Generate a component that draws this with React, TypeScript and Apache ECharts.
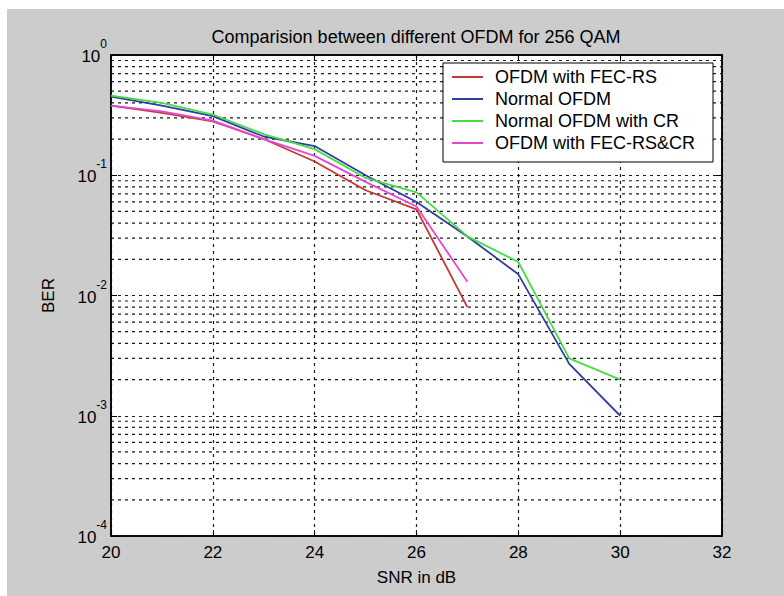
import React, { useEffect, useRef } from "react";
import * as echarts from "echarts";

const titleText = "Comparision between different OFDM for 256 QAM";
const xName = "SNR in dB";
const yName = "BER";

const snrShort = [20, 21, 22, 23, 24, 25, 26, 27];
const snrLong = [20, 21, 22, 23, 24, 25, 26, 27, 28, 29, 30];

const berFecRs = [0.38, 0.33, 0.28, 0.2, 0.13, 0.075, 0.052, 0.008];
const berNormal = [0.45, 0.38, 0.31, 0.21, 0.175, 0.1, 0.06, 0.031, 0.015, 0.0027, 0.001];
const berNormalCr = [0.46, 0.4, 0.32, 0.22, 0.165, 0.095, 0.072, 0.031, 0.019, 0.003, 0.002];
const berFecRsCr = [0.38, 0.34, 0.285, 0.2, 0.145, 0.088, 0.055, 0.013];

const seriesNames = ["OFDM with FEC-RS", "Normal OFDM", "Normal OFDM with CR", "OFDM with FEC-RS&CR"];
const seriesColors = ["#c23a30", "#2e3f9e", "#46dc46", "#e646d2"];

const xRange = [20, 32];
const xTicks = [20, 22, 24, 26, 28, 30, 32];
const decadeExps = [-4, -3, -2, -1, 0];
const minorMultipliers = [2, 3, 4, 5, 6, 7, 8, 9];

const FONT = "'Liberation Sans', Arial, Helvetica, sans-serif";

function pairs(xs: number[], ys: number[]) {
  return ys.map((y, i) => [xs[i], y]);
}

export default function App() {
  const ref = useRef<HTMLDivElement>(null);
  useEffect(() => {
    document.body.style.margin = "0";
    if (!ref.current) return;
    const chart = echarts.init(ref.current, undefined, { renderer: "svg" });

    const minorValues: number[] = [];
    decadeExps.slice(0, -1).forEach((e) => {
      minorMultipliers.forEach((m) => minorValues.push(m * Math.pow(10, e)));
    });

    const gridDash = { color: "#1a1a1a", width: 1.2, type: [3, 4] as number[] };

    const curves = [
      pairs(snrShort, berFecRs),
      pairs(snrLong, berNormal),
      pairs(snrLong, berNormalCr),
      pairs(snrShort, berFecRsCr),
    ];

    const gridSeries = minorValues.map((v, i) => ({
      name: "grid" + i,
      type: "line",
      data: [
        [xRange[0], v],
        [xRange[1], v],
      ],
      z: 1,
      silent: true,
      symbol: "none",
      showSymbol: false,
      lineStyle: gridDash,
      emphasis: { disabled: true },
      tooltip: { show: false },
    }));

    const option: any = {
      animation: false,
      backgroundColor: "#ffffff",
      textStyle: { fontFamily: FONT },
      graphic: {
        elements: [
          {
            type: "rect",
            z: -100,
            silent: true,
            shape: { x: 7, y: 9, width: 777, height: 587 },
            style: { fill: "#cccccc" },
          },
          {
            type: "text",
            x: 416,
            y: 37,
            z: 10,
            style: {
              text: titleText,
              fontFamily: FONT,
              fontSize: 18,
              fill: "#000",
              textAlign: "center",
              textVerticalAlign: "middle",
            },
          },
        ],
      },
      grid: {
        left: 111,
        top: 55,
        width: 611,
        height: 481,
        show: true,
        backgroundColor: "#ffffff",
        borderColor: "#000",
        borderWidth: 1.5,
      },
      legend: {
        data: seriesNames,
        orient: "vertical",
        left: 443,
        top: 63,
        padding: [5, 18, 10, 9],
        icon: "rect",
        itemWidth: 31,
        itemHeight: 2,
        itemGap: 4,
        backgroundColor: "#ffffff",
        borderColor: "#000",
        borderWidth: 1,
        borderRadius: 0,
        textStyle: { fontFamily: FONT, fontSize: 18, color: "#000", padding: [0, 0, 0, 7] },
      },
      xAxis: [
        {
          type: "value",
          min: xRange[0],
          max: xRange[1],
          interval: 2,
          name: xName,
          nameLocation: "middle",
          nameGap: 33,
          nameTextStyle: { fontFamily: FONT, fontSize: 17, color: "#000" },
          axisLine: { show: true, lineStyle: { color: "#000", width: 1.5 } },
          axisTick: { show: true, inside: true, length: 6, lineStyle: { color: "#000" } },
          axisLabel: {
            margin: 8,
            fontFamily: FONT,
            fontSize: 17,
            color: "#000",
            formatter: (v: number) => (xTicks.includes(v) ? String(v) : ""),
          },
          splitLine: { show: true, lineStyle: gridDash },
        },
        {
          type: "value",
          position: "top",
          min: xRange[0],
          max: xRange[1],
          interval: 2,
          axisLine: { show: true, lineStyle: { color: "#000", width: 1.5 } },
          axisTick: { show: true, inside: true, length: 6, lineStyle: { color: "#000" } },
          axisLabel: { show: false },
          splitLine: { show: false },
        },
      ],
      yAxis: [
        {
          type: "log",
          logBase: 10,
          min: 1e-4,
          max: 1,
          name: yName,
          nameLocation: "middle",
          nameGap: 54,
          nameTextStyle: { fontFamily: FONT, fontSize: 17, color: "#000" },
          axisLine: { show: true, lineStyle: { color: "#000", width: 1.5 } },
          axisTick: { show: true, inside: true, length: 6, lineStyle: { color: "#000" } },
          axisLabel: {
            margin: 4,
            padding: [0, 0, 7, 0],
            formatter: (v: number) => {
              const e = Math.round(Math.log10(v));
              return "{b|10}{e|" + e + "}";
            },
            rich: {
              b: { fontFamily: FONT, fontSize: 17, color: "#000", lineHeight: 27, verticalAlign: "bottom" },
              e: { fontFamily: FONT, fontSize: 12, color: "#000", lineHeight: 12, verticalAlign: "top" },
            },
          },
          splitLine: { show: true, lineStyle: gridDash },
        },
        {
          type: "log",
          logBase: 10,
          min: 1e-4,
          max: 1,
          position: "right",
          axisLine: { show: true, lineStyle: { color: "#000", width: 1.5 } },
          axisTick: { show: true, inside: true, length: 6, lineStyle: { color: "#000" } },
          axisLabel: { show: false },
          splitLine: { show: false },
        },
      ],
      series: [
        ...gridSeries,
        ...curves.map((d, i) => ({
          name: seriesNames[i],
          type: "line",
          data: d,
          z: 3,
          symbol: "none",
          showSymbol: false,
          lineStyle: { color: seriesColors[i], width: 1.8 },
          itemStyle: { color: seriesColors[i] },
        })),
      ],
    };
    chart.setOption(option);
    return () => chart.dispose();
  }, []);
  return (
    <div
      ref={ref}
      style={{ position: "fixed", left: 0, top: 0, width: 784, height: 596 }}
    />
  );
}
